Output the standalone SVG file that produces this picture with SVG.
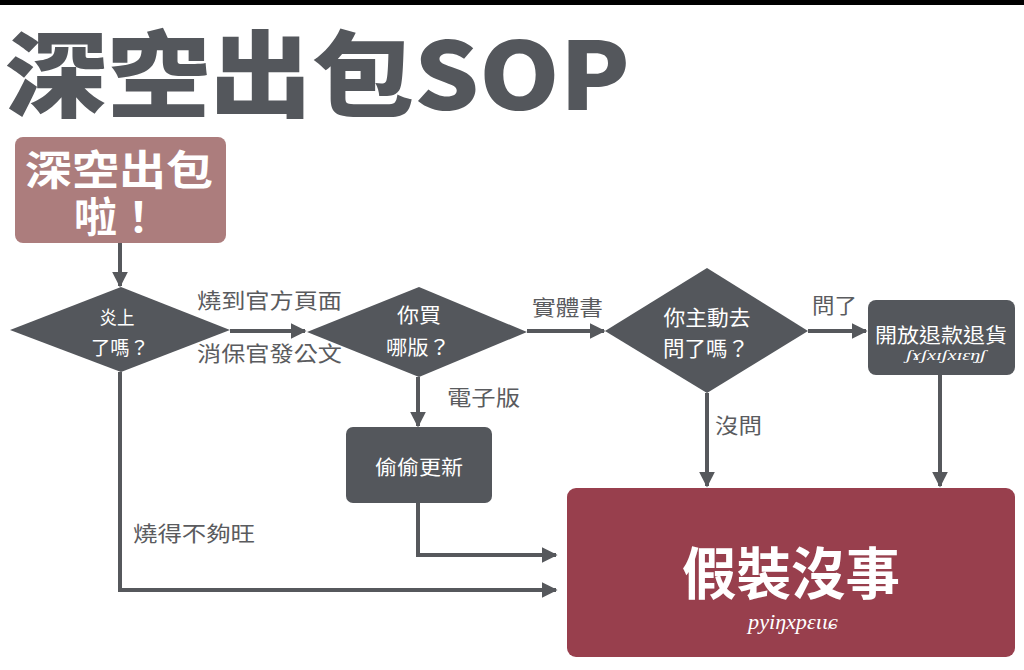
<svg xmlns="http://www.w3.org/2000/svg" width="1024" height="670" viewBox="0 0 1024 670">
<defs>
<marker id="ah" viewBox="0 0 10 10" refX="9" refY="5" markerWidth="4" markerHeight="4" orient="auto" markerUnits="strokeWidth">
<path d="M0,0 L10,5 L0,10 z" fill="#56585c"/>
</marker>
<style>
.cjk{font-family:"Noto Sans CJK TC","Noto Sans CJK SC",sans-serif}
.lbl{font-size:21px;fill:#5a5b5e;text-anchor:start}
.wt{fill:#ffffff;text-anchor:middle}
.dk{fill:#54575c}
.conn{fill:none;stroke:#56585c;stroke-width:4}
.scr{font-family:"Liberation Serif",serif;font-style:italic;fill:#ffffff;text-anchor:middle}
</style>
</defs>
<rect x="0" y="0" width="1024" height="670" fill="#ffffff"/>
<rect x="0" y="0" width="1024" height="5" fill="#000000"/>
<g id="title">
<text x="5" y="110" class="cjk" font-size="94" font-weight="900" fill="#54575c" textLength="625" lengthAdjust="spacingAndGlyphs">深空出包SOP</text>
</g>
<g id="connectors">
<line class="conn" x1="120" y1="243" x2="120" y2="286" marker-end="url(#ah)"/>
<line class="conn" x1="230" y1="331" x2="305" y2="331" marker-end="url(#ah)"/>
<line class="conn" x1="527" y1="331" x2="604" y2="331" marker-end="url(#ah)"/>
<line class="conn" x1="808" y1="331" x2="866" y2="331" marker-end="url(#ah)"/>
<line class="conn" x1="418" y1="377" x2="418" y2="426" marker-end="url(#ah)"/>
<line class="conn" x1="707" y1="393" x2="707" y2="486" marker-end="url(#ah)"/>
<line class="conn" x1="940" y1="375" x2="940" y2="486" marker-end="url(#ah)"/>
<polyline class="conn" points="418,503 418,555 556,555" marker-end="url(#ah)"/>
<polyline class="conn" points="120,372 120,590 556,590" marker-end="url(#ah)"/>
<text class="cjk lbl" x="197" y="308" textLength="145" lengthAdjust="spacingAndGlyphs">燒到官方頁面</text>
<text class="cjk lbl" x="197" y="361" textLength="145" lengthAdjust="spacingAndGlyphs">消保官發公文</text>
<text class="cjk lbl" x="532" y="315" textLength="71" lengthAdjust="spacingAndGlyphs">實體書</text>
<text class="cjk lbl" x="812" y="313" textLength="45" lengthAdjust="spacingAndGlyphs">問了</text>
<text class="cjk lbl" x="447" y="405" textLength="73" lengthAdjust="spacingAndGlyphs">電子版</text>
<text class="cjk lbl" x="715" y="433" textLength="47" lengthAdjust="spacingAndGlyphs">沒問</text>
<text class="cjk lbl" x="133" y="541" textLength="122" lengthAdjust="spacingAndGlyphs">燒得不夠旺</text>
</g>
<g id="start">
<rect x="15" y="137" width="211" height="106" rx="8" fill="#ac7d7d"/>
<text class="cjk wt" font-size="41" font-weight="700"><tspan x="119" y="185" textLength="188" lengthAdjust="spacingAndGlyphs">深空出包</tspan><tspan x="117" y="232" textLength="86" lengthAdjust="spacingAndGlyphs">啦！</tspan></text>
</g>
<g id="d1">
<polygon class="dk" points="10,330 121,287 230,330 121,372"/>
<text class="cjk wt" x="117" y="325" font-size="19" textLength="35" lengthAdjust="spacingAndGlyphs">炎上</text>
<text class="cjk wt" x="120" y="355" font-size="19" textLength="58" lengthAdjust="spacingAndGlyphs">了嗎？</text>
</g>
<g id="d2">
<polygon class="dk" points="307,332 419,287 527,332 419,377"/>
<text class="cjk wt" x="419" y="323" font-size="20" textLength="44" lengthAdjust="spacingAndGlyphs">你買</text>
<text class="cjk wt" x="418" y="355" font-size="20" textLength="64" lengthAdjust="spacingAndGlyphs">哪版？</text>
</g>
<g id="d3">
<polygon class="dk" points="605,331 707,268 808,331 707,393"/>
<text class="cjk wt" x="707" y="325" font-size="21" textLength="87" lengthAdjust="spacingAndGlyphs">你主動去</text>
<text class="cjk wt" x="706" y="356" font-size="21" textLength="86" lengthAdjust="spacingAndGlyphs">問了嗎？</text>
</g>
<g id="refund">
<rect class="dk" x="868" y="300" width="147" height="75" rx="8"/>
<text class="cjk wt" x="941" y="343" font-size="20" textLength="132" lengthAdjust="spacingAndGlyphs">開放退款退貨</text>
<text class="scr" x="946" y="360" font-size="14" textLength="80" lengthAdjust="spacingAndGlyphs">ʃɤʃxɪʃxɪɛŋʃ</text>
</g>
<g id="update">
<rect class="dk" x="346" y="427" width="146" height="76" rx="7"/>
<text class="cjk wt" x="419" y="475" font-size="20" textLength="88" lengthAdjust="spacingAndGlyphs">偷偷更新</text>
</g>
<g id="pretend">
<rect x="567" y="488" width="448" height="169" rx="9" fill="#983f4d"/>
<text class="cjk wt" x="791" y="594" font-size="56" font-weight="700" textLength="218" lengthAdjust="spacingAndGlyphs">假裝沒事</text>
<text class="scr" x="793" y="629" font-size="22" textLength="90" lengthAdjust="spacingAndGlyphs">pyiŋxpɛɩɩɕ</text>
</g>
</svg>
